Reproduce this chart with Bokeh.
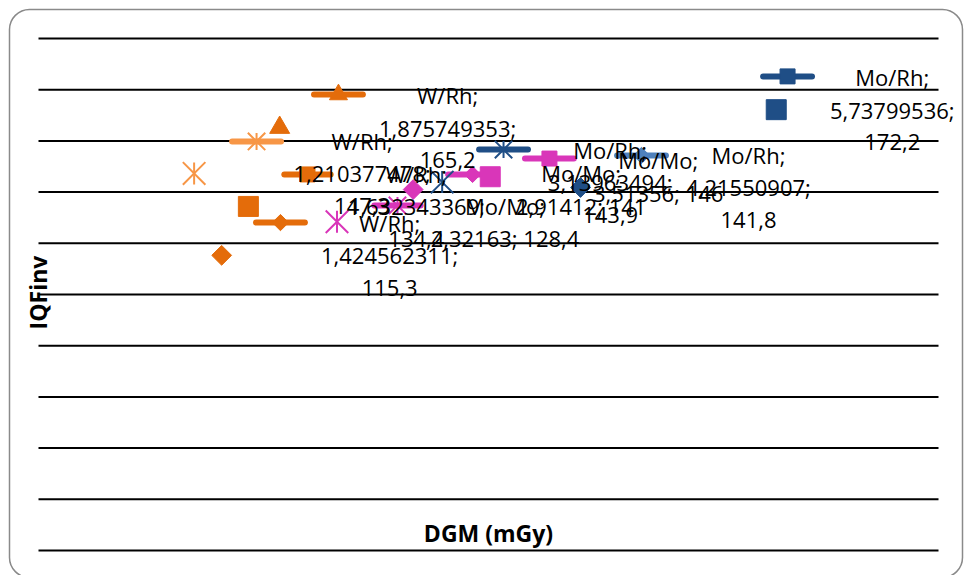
import math
from bokeh.plotting import figure
from bokeh.models import ColumnDataSource, LabelSet, Label, BoxAnnotation, Range1d
from bokeh.core.properties import value
from bokeh.embed import file_html
from bokeh.resources import INLINE

# ---- data ----
series = ["W/Rh", "W/Rh", "W/Rh", "W/Rh", "Mo/Mo", "Mo/Mo", "Mo/Mo", "Mo/Rh", "Mo/Rh", "Mo/Rh"]
shapes = ["triangle", "asterisk", "square", "diamond", "asterisk", "diamond", "square",
          "asterisk", "diamond", "square"]
# points without error bars (the labelled values)
dgm = [1.875749353, 1.210377478, 1.632343369, 1.424562311, 2.32163, 2.91412, 3.51356,
       3.13963494, 4.21550907, 5.73799536]
iqf = [165.2, 147.3, 134.4, 115.3, 128.4, 141, 146, 143.9, 141.8, 172.2]
# points drawn with horizontal error bars
dgm_bar = [2.333, 1.696, 2.092, 1.882, 2.792, 3.376, 3.974, 3.617, 4.690, 5.826]
iqf_bar = [178.1, 159.8, 146.9, 128.1, 134.8, 146.9, 153.1, 156.6, 154.3, 185.2]
dgm_err = [0.19, 0.19, 0.18, 0.19, 0.18, 0.19, 0.19, 0.19, 0.19, 0.19]
y_ticks = [0, 20, 40, 60, 80, 100, 120, 140, 160, 180, 200]
x_limits = [0, 7]

# ---- layout / styles ----
W, H = 964, 575
FL, FR, FT, FB = 38, 938, 38, 550          # plot-area edges in pixels
X_MIN, X_MAX = x_limits
Y_MIN, Y_MAX = y_ticks[0], y_ticks[-1]
sx = (FR - FL) / (X_MAX - X_MIN)
sy = (FB - FT) / (Y_MAX - Y_MIN)

ORANGE = "#E46C0A"
LORANGE = "#F79646"
MAGENTA = "#D936B9"
DBLUE = "#1F4E86"
MBLUE = "#4F81BD"
colors = [ORANGE, LORANGE, ORANGE, ORANGE, MAGENTA, MAGENTA, MAGENTA, DBLUE, DBLUE, DBLUE]
bar_colors = [ORANGE, LORANGE, ORANGE, ORANGE, MAGENTA, MAGENTA, MAGENTA, DBLUE, MBLUE, DBLUE]
label_dx = [168, 168, 168, 168, 168, 168, 168, 168, 168, 116]
FONT = "Open Sans"

p = figure(width=W, height=H,
           x_range=Range1d(X_MIN - FL / sx, X_MAX + (W - FR) / sx),
           y_range=Range1d(Y_MIN - (H - FB) / sy, Y_MAX + FT / sy),
           x_axis_location=None, y_axis_location=None, toolbar_location=None,
           output_backend="svg", min_border=0)
p.outline_line_color = None
p.background_fill_color = "white"
p.border_fill_color = "white"
p.xgrid.visible = False
p.ygrid.visible = False

# rounded chart border
p.add_layout(BoxAnnotation(left=X_MIN - 29 / sx, right=X_MAX + 24 / sx,
                           top=Y_MAX + 29 / sy, bottom=Y_MIN - 27 / sy,
                           fill_color=None, fill_alpha=0, line_color="#8a8a8a",
                           line_alpha=1.0, line_width=1.5,
                           border_radius=20, level="underlay"))

# horizontal gridlines across the plot area
p.segment(x0=[X_MIN] * len(y_ticks), x1=[X_MAX] * len(y_ticks), y0=y_ticks, y1=y_ticks,
          line_color="#000000", line_width=2)

size_plain = {"triangle": 20, "asterisk": 22, "square": 20, "diamond": 14}
size_bar = {"triangle": 18, "asterisk": 17, "square": 15, "diamond": 11.5}
X_SCALE = 1.45   # bokeh's "x" marker is drawn smaller than its nominal size

# error bars
bar_src = ColumnDataSource(dict(
    x0=[x - e for x, e in zip(dgm_bar, dgm_err)],
    x1=[x + e for x, e in zip(dgm_bar, dgm_err)],
    y=iqf_bar, color=bar_colors))
p.segment(x0="x0", x1="x1", y0="y", y1="y", source=bar_src, line_color="color",
          line_width=6, line_cap="round")

def draw(xs, ys, cols, sizes):
    for shp in ["triangle", "asterisk", "square", "diamond"]:
        idx = [i for i, s in enumerate(shapes) if s == shp]
        if not idx:
            continue
        src = ColumnDataSource(dict(x=[xs[i] for i in idx], y=[ys[i] for i in idx],
                                    c=[cols[i] for i in idx]))
        if shp == "asterisk":
            p.scatter("x", "y", source=src, marker="x", size=sizes[shp] * X_SCALE,
                      line_color="c", line_width=2)
            p.scatter("x", "y", source=src, marker="dash", angle=math.pi / 2,
                      size=sizes[shp], line_color="c", line_width=2)
        elif shp == "diamond":
            p.scatter("x", "y", source=src, marker="square", angle=math.pi / 4,
                      size=sizes[shp], fill_color="c", line_color="c", line_width=1)
        else:
            p.scatter("x", "y", source=src, marker=shp, size=sizes[shp],
                      fill_color="c", line_color="c", line_width=1)

draw(dgm_bar, iqf_bar, bar_colors, size_bar)
draw(dgm, iqf, colors, size_plain)

# data labels
def fmt(v):
    return ("%.10g" % v).replace(".", ",")

lx, ly, lt, ldx, ldy = [], [], [], [], []
for i in range(len(dgm)):
    pair = fmt(dgm[i]) + "; " + fmt(iqf[i])
    if len(pair) <= 14:
        lines = [series[i] + ";", pair]
    else:
        lines = [series[i] + ";", fmt(dgm[i]) + ";", fmt(iqf[i])]
    n = len(lines)
    for k, t in enumerate(lines):
        lx.append(dgm[i]); ly.append(iqf[i]); lt.append(t)
        ldx.append(label_dx[i]); ldy.append(((n - 1) / 2 - k) * 32.5)
lab_src = ColumnDataSource(dict(x=lx, y=ly, t=lt, dx=ldx, dy=ldy))
p.add_layout(LabelSet(x="x", y="y", text="t", x_offset="dx", y_offset="dy", source=lab_src,
                      text_align="center", text_baseline="middle",
                      text_font=value(FONT), text_font_size="22px", text_color="#000000"))

# axis titles
p.add_layout(Label(x=(X_MIN + X_MAX) / 2, y=Y_MIN + 18 / sy, text="DGM (mGy)", text_font=FONT,
                   text_font_size="23px", text_font_style="bold", text_align="center",
                   text_baseline="middle", text_color="#000000"))
p.add_layout(Label(x=X_MIN - 1 / sx, y=Y_MIN + 258 / sy, text="IQFinv", angle=math.pi / 2,
                   text_font=FONT, text_font_size="23px", text_font_style="bold",
                   text_align="center", text_baseline="middle", text_color="#000000"))

open("out.html", "w").write(file_html(p, INLINE))
